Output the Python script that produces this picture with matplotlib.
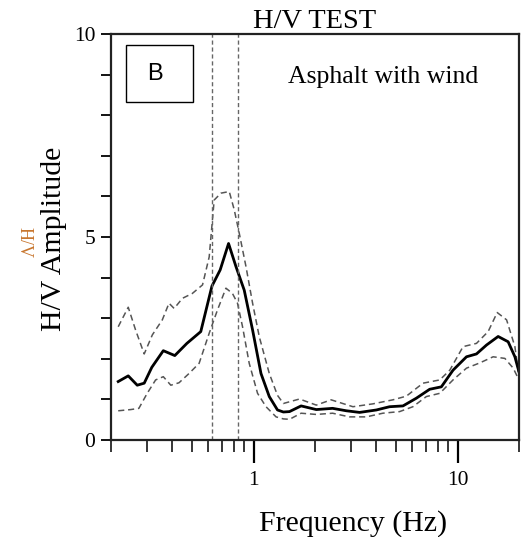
import matplotlib
matplotlib.use("Agg")
import matplotlib.pyplot as plt
from matplotlib.patches import Rectangle
from matplotlib.ticker import FixedLocator, NullFormatter, FuncFormatter, MultipleLocator

# H/V curve
mean_freq = [0.217, 0.243, 0.269, 0.291, 0.317, 0.361, 0.411, 0.471, 0.551, 0.625,
             0.686, 0.754, 0.820, 0.900, 0.989, 1.087, 1.194, 1.31, 1.40, 1.50,
             1.71, 2.03, 2.44, 2.85, 3.31, 4.00, 4.64, 5.40, 6.28, 7.30,
             8.33, 9.50, 11.06, 12.38, 13.87, 15.81, 17.7, 19.1, 20.0]
mean_amp = [1.44, 1.58, 1.35, 1.40, 1.79, 2.20, 2.08, 2.38, 2.67, 3.79,
            4.19, 4.84, 4.27, 3.69, 2.71, 1.64, 1.07, 0.74, 0.69, 0.70,
            0.84, 0.75, 0.78, 0.72, 0.68, 0.74, 0.82, 0.84, 1.03, 1.25,
            1.31, 1.72, 2.05, 2.12, 2.34, 2.55, 2.42, 2.05, 1.68]

upper_freq = [0.217, 0.243, 0.264, 0.291, 0.319, 0.357, 0.385, 0.408, 0.448, 0.501,
              0.562, 0.606, 0.641, 0.692, 0.760, 0.804, 0.851, 0.918, 0.989, 1.067,
              1.194, 1.31, 1.40, 1.68, 2.03, 2.40, 3.07, 3.84, 4.82, 5.61,
              6.77, 8.18, 9.16, 10.64, 12.38, 14.12, 15.64, 17.39, 19.1, 20.0]
upper_amp = [2.79, 3.27, 2.71, 2.12, 2.59, 2.96, 3.37, 3.24, 3.49, 3.61,
             3.82, 4.51, 5.91, 6.08, 6.12, 5.67, 5.09, 4.27, 3.37, 2.54,
             1.64, 1.10, 0.90, 1.01, 0.86, 0.99, 0.82, 0.89, 0.99, 1.08,
             1.40, 1.48, 1.72, 2.30, 2.38, 2.67, 3.14, 2.96, 2.30, 1.56]

lower_freq = [0.217, 0.250, 0.274, 0.301, 0.331, 0.361, 0.393, 0.431, 0.483, 0.541,
              0.606, 0.665, 0.732, 0.788, 0.834, 0.883, 0.952, 1.046, 1.151, 1.289,
              1.40, 1.50, 1.71, 2.03, 2.44, 2.95, 3.57, 4.30, 5.20, 6.04,
              7.03, 8.18, 9.50, 11.06, 12.86, 14.94, 17.06, 18.74, 20.0]
lower_amp = [0.72, 0.75, 0.78, 1.15, 1.48, 1.56, 1.35, 1.41, 1.64, 1.89,
             2.63, 3.20, 3.74, 3.61, 3.37, 2.79, 1.89, 1.15, 0.82, 0.57,
             0.52, 0.51, 0.66, 0.63, 0.66, 0.57, 0.57, 0.66, 0.70, 0.82,
             1.07, 1.15, 1.48, 1.77, 1.90, 2.05, 2.01, 1.77, 1.48]

peak_bounds = [0.629, 0.841]

x_major = [1, 10]
x_minor = [0.2, 0.3, 0.4, 0.5, 0.6, 0.7, 0.8, 0.9, 2, 3, 4, 5, 6, 7, 8, 9, 20]
y_labeled = [0, 5, 10]

SERIF = "Liberation Serif"


def plot():
    fig = plt.figure(figsize=(5.28, 5.37), dpi=100)
    ax = fig.add_axes([0.2102, 0.1806, 0.7727, 0.7561])

    dash = dict(color="#555555", lw=1.1, dashes=(4, 2.5))
    ax.plot(upper_freq, upper_amp, **dash)
    ax.plot(lower_freq, lower_amp, **dash)
    ax.plot(mean_freq, mean_amp, color="black", lw=2.0)
    for f in peak_bounds:
        ax.axvline(f, color="#666666", lw=1.0, dashes=(3, 2))

    ax.set_xscale("log")
    ax.set_xlim(0.2, 20)
    ax.set_ylim(0, 10)

    ax.xaxis.set_major_locator(FixedLocator(x_major))
    ax.xaxis.set_minor_locator(FixedLocator(x_minor))
    ax.xaxis.set_major_formatter(FuncFormatter(lambda v, p: f"{v:g}"))
    ax.xaxis.set_minor_formatter(NullFormatter())
    ax.yaxis.set_major_locator(MultipleLocator(1))
    ax.yaxis.set_major_formatter(
        FuncFormatter(lambda v, p: f"{v:g}" if round(v) in y_labeled else ""))

    ax.tick_params(axis="x", which="major", direction="out", length=16.5, width=1.6, pad=6)
    ax.tick_params(axis="x", which="minor", direction="out", length=8.6, width=1.1)
    ax.tick_params(axis="y", which="major", direction="out", length=7.2, width=1.3, pad=4)
    ax.tick_params(labelsize=15.5)
    for lab in ax.get_xticklabels() + ax.get_yticklabels():
        lab.set_fontfamily(SERIF)

    for s in ax.spines.values():
        s.set_linewidth(1.6)
        s.set_color("#222222")

    ax.set_title("H/V TEST", fontfamily=SERIF, fontsize=20.5, pad=3)

    ax.text(0.667, 0.879, "Asphalt with wind", transform=ax.transAxes,
            fontfamily=SERIF, fontsize=18.5, ha="center", va="baseline")

    ax.add_patch(Rectangle((0.0368, 0.8325), 0.164, 0.1405, transform=ax.transAxes,
                           fill=False, edgecolor="black", lw=1.0))
    ax.text(0.1066, 0.901, "B", transform=ax.transAxes, fontfamily="Liberation Sans",
            fontsize=17, ha="center", va="center")

    fig.text(0.6686, 0.0112, "Frequency (Hz)", fontfamily=SERIF, fontsize=21.5,
             ha="center", va="baseline")
    fig.text(0.1032, 0.555, "H/V Amplitude", fontfamily=SERIF, fontsize=21.5,
             rotation=90, ha="center", va="center")
    fig.text(0.0455, 0.549, "H/V", fontfamily=SERIF, fontsize=13, color="#C8762E",
             rotation=-90, ha="center", va="center")

    fig.savefig("out.png", dpi=100)


if __name__ == "__main__":
    plot()
